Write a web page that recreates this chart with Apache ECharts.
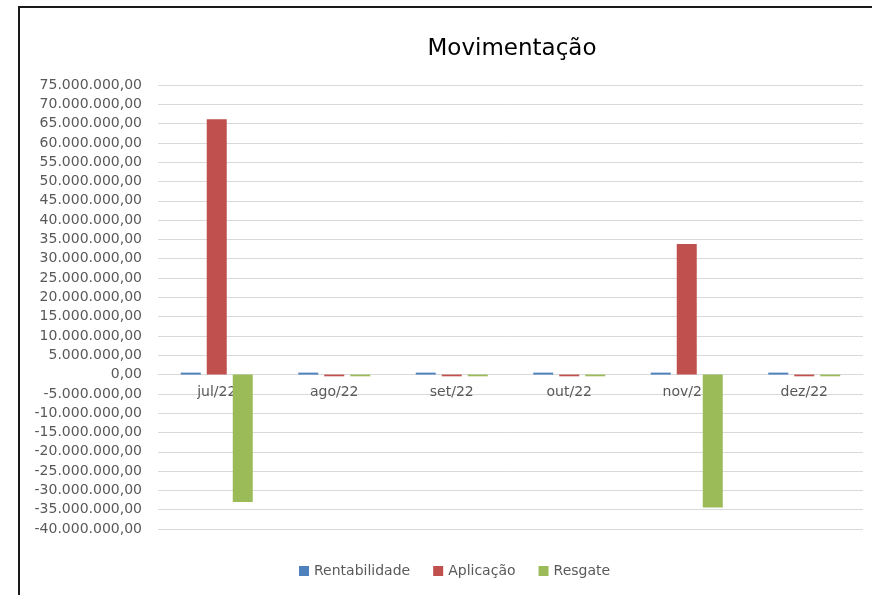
<!DOCTYPE html>
<html>
<head>
<meta charset="utf-8">
<script src="https://cdn.jsdelivr.net/npm/echarts@6/dist/echarts.min.js"></script>
<style>
	html,body{margin:0;padding:0;background:#fff;overflow:hidden;}
	#mainChart{position:absolute;left:0;top:0;width:872px;height:595px;}
	#frame{position:absolute;left:18px;top:6px;width:1000px;height:1000px;border:2px solid #1a1a1a;pointer-events:none;}
</style>
</head>
<body>
<div id="mainChart"></div>
<div id="frame"></div>
<script>
	var categories = ['jul/22', 'ago/22', 'set/22', 'out/22', 'nov/22', 'dez/22'];
	var rentabilidade = [500000, 500000, 500000, 500000, 500000, 500000];
	var aplicacao = [66100000, -450000, -450000, -450000, 33800000, -450000];
	var resgate = [-33000000, -450000, -450000, -450000, -34400000, -450000];

	// formato brasileiro: 75.000.000,00
	function fmtBR(v) {
		var neg = v < 0;
		var s = Math.abs(Math.round(v)).toString();
		s = s.replace(/\B(?=(\d{3})+(?!\d))/g, '.');
		return (neg ? '-' : '') + s + ',00';
	}

	var font = 'DejaVu Sans';
	var options = {
		animation: false,
		title: {
			text: 'Movimentação',
			left: 507,
			top: 33,
			textAlign: 'center',
			textStyle: {
				fontFamily: font,
				fontSize: 23,
				fontWeight: 'normal',
				color: '#000'
			}
		},
		grid: {
			left: 158,
			right: 9,
			top: 85,
			bottom: 66
		},
		legend: {
			top: 559,
			left: 294,
			itemWidth: 10,
			itemHeight: 10,
			itemGap: 23,
			icon: 'rect',
			textStyle: {
				fontFamily: font,
				fontSize: 14,
				color: '#595959'
			},
			data: ['Rentabilidade', 'Aplicação', 'Resgate']
		},
		color: ['#4f81bd', '#c0504d', '#9bbb59'],
		xAxis: {
			type: 'category',
			data: categories,
			position: 'bottom',
			offset: -155,
			z: 0,
			axisTick: { show: false },
			axisLine: {
				onZero: false,
				lineStyle: { color: '#d9d9d9', width: 1 }
			},
			axisLabel: {
				fontFamily: font,
				fontSize: 14,
				color: '#595959',
				margin: 11
			}
		},
		yAxis: {
			type: 'value',
			min: -40000000,
			max: 75000000,
			interval: 5000000,
			axisLine: { show: false },
			axisTick: { show: false },
			splitLine: {
				lineStyle: { color: '#d9d9d9', width: 1 }
			},
			axisLabel: {
				fontFamily: font,
				fontSize: 14,
				color: '#595959',
				margin: 16,
				formatter: fmtBR
			}
		},
		series: [
			{ name: 'Rentabilidade', type: 'bar', data: rentabilidade, barWidth: 20, barGap: '30%', zlevel: 1 },
			{ name: 'Aplicação', type: 'bar', data: aplicacao, barWidth: 20, barGap: '30%', zlevel: 1 },
			{ name: 'Resgate', type: 'bar', data: resgate, barWidth: 20, barGap: '30%', zlevel: 1 }
		]
	};

	var mainChart = echarts.init(document.getElementById('mainChart'));
	mainChart.setOption(options);
</script>
</body>
</html>
